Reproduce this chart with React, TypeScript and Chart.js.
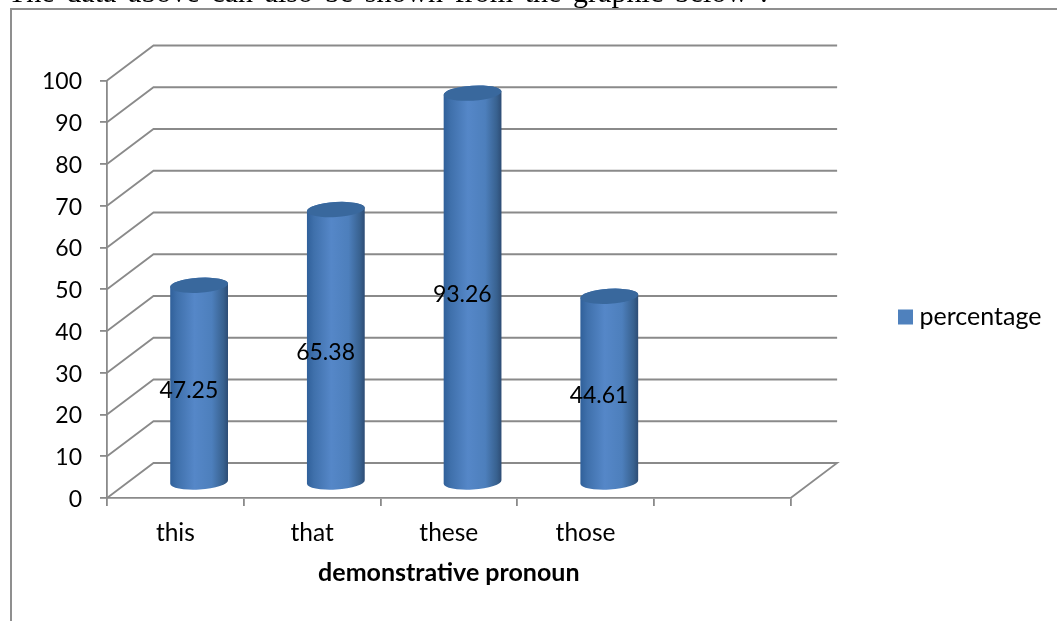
import React, { useEffect, useRef } from "react";
import { Chart, registerables } from "chart.js";

Chart.register(...registerables);

const categories = ["this", "that", "these", "those", ""];
const percentage = [47.25, 65.38, 93.26, 44.61, null];
const seriesName = "percentage";
const axisTitle = "demonstrative pronoun";
const heading = "The data above can also be shown from the graphic below :";

const GRID = "#8a8a8a";
const FONT = "Lato";

const DEPTH_X = 46.5;
const DEPTH_Y = 35;

const scene = {
  id: "scene3d",
  afterLayout(chart: any) {
    const legend = chart.legend;
    const w = legend.right - legend.left;
    const h = legend.bottom - legend.top;
    legend.left = 894;
    legend.right = 894 + w;
    legend.top = 317 - h / 2;
    legend.bottom = 317 + h / 2;
  },
  beforeDatasetsDraw(chart: any) {
    const { ctx, chartArea: a, scales } = chart;
    const y = scales.y;
    ctx.save();
    ctx.strokeStyle = GRID;
    ctx.lineWidth = 1.8;
    y.ticks.forEach((t: any) => {
      const p = y.getPixelForValue(t.value);
      ctx.beginPath();
      ctx.moveTo(a.left, p);
      ctx.lineTo(a.left + DEPTH_X, p - DEPTH_Y);
      ctx.lineTo(a.right + DEPTH_X, p - DEPTH_Y);
      if (t.value === 0) ctx.lineTo(a.right, p);
      ctx.stroke();
    });
    ctx.restore();
  },
  beforeDatasetDraw(chart: any, args: any) {
    const { ctx, scales } = chart;
    const meta = args.meta;
    const y0 = scales.y.getPixelForValue(0);
    ctx.save();
    meta.data.forEach((bar: any, i: number) => {
      const v = percentage[i];
      if (v == null) return;
      const rx = bar.width / 2;
      const ry = 7.5;
      const tilt = (-3.5 * Math.PI) / 180;
      const cx = bar.x + DEPTH_X / 2 + 0.5;
      const top = bar.y - 15.5;
      const bottom = y0 - 16;
      const l = cx - rx;
      const r = cx + rx;
      const g = ctx.createLinearGradient(l, 0, r, 0);
      g.addColorStop(0, "#30609a");
      g.addColorStop(0.12, "#3f70ab");
      g.addColorStop(0.42, "#5587c8");
      g.addColorStop(0.72, "#4d7fbc");
      g.addColorStop(0.92, "#38618f");
      g.addColorStop(1, "#2d4c74");
      ctx.fillStyle = g;
      ctx.beginPath();
      ctx.ellipse(cx, bottom, rx, ry, tilt, 0, Math.PI, false);
      ctx.ellipse(cx, top, rx, ry, tilt, Math.PI, Math.PI * 2, false);
      ctx.closePath();
      ctx.fill();
      ctx.fillStyle = "#39689d";
      ctx.beginPath();
      ctx.ellipse(cx, top, rx, ry, tilt, 0, Math.PI * 2);
      ctx.fill();
    });
    ctx.restore();
    return false;
  },
  afterDatasetsDraw(chart: any) {
    const { ctx, scales } = chart;
    const meta = chart.getDatasetMeta(0);
    ctx.save();
    ctx.fillStyle = "#000";
    ctx.font = `23px ${FONT}`;
    ctx.textAlign = "center";
    ctx.textBaseline = "middle";
    meta.data.forEach((bar: any, i: number) => {
      const v = percentage[i];
      if (v == null) return;
      const p = scales.y.getPixelForValue(v / 2) - 9;
      ctx.fillText(v.toFixed(2), bar.x + 13.5, p);
    });
    ctx.restore();
  },
};

export default function App() {
  const ref = useRef<HTMLCanvasElement>(null);
  useEffect(() => {
    if (!ref.current) return;
    const chart = new Chart(ref.current, {
      type: "bar",
      data: {
        labels: categories,
        datasets: [
          {
            label: seriesName,
            data: percentage as any,
            backgroundColor: "#4f81bd",
            borderWidth: 0,
            categoryPercentage: 1,
            barPercentage: 0.4234,
          },
        ],
      },
      plugins: [scene as any],
      options: {
        animation: false,
        responsive: false,
        events: [],
        layout: { padding: { top: 80.5, left: 0, right: 109, bottom: 0 } },
        plugins: {
          tooltip: { enabled: false },
          legend: {
            position: "right",
            labels: {
              boxWidth: 3,
              boxHeight: 3,
              padding: 10,
              color: "#000",
              font: { family: FONT, size: 25 },
              generateLabels: () => [
                {
                  text: seriesName,
                  fillStyle: "#4f81bd",
                  strokeStyle: "#4f81bd",
                  lineWidth: 12,
                  datasetIndex: 0,
                },
              ],
            },
          },
        },
        scales: {
          x: {
            afterFit: (s: any) => {
              s.height = 123;
            },
            grid: {
              offset: true,
              drawOnChartArea: false,
              color: GRID,
              lineWidth: 1.8,
              tickLength: 8,
            },
            border: { color: GRID, width: 1.8 },
            ticks: {
              color: "#000",
              font: { family: FONT, size: 24.5 },
              padding: 12,
              maxRotation: 0,
              autoSkip: false,
            },
            title: {
              display: true,
              text: axisTitle,
              color: "#000",
              font: { family: FONT, size: 25, weight: "bold" },
              padding: { top: 0, bottom: 33 },
            },
          },
          y: {
            min: 0,
            max: 100,
            afterFit: (s: any) => {
              s.width = 107;
            },
            grid: {
              drawOnChartArea: false,
              color: GRID,
              lineWidth: 1.8,
              tickLength: 7,
            },
            border: { color: GRID, width: 1.8 },
            ticks: {
              stepSize: 10,
              color: "#000",
              font: { family: FONT, size: 23 },
              padding: 18,
              labelOffset: 1.5,
            },
          },
        },
      } as any,
    });
    return () => chart.destroy();
  }, []);

  return (
    <div
      style={{
        position: "fixed",
        left: 0,
        top: 0,
        width: 1057,
        height: 621,
        overflow: "hidden",
        background: "#fff",
      }}
    >
      <canvas ref={ref} width={1057} height={621} style={{ position: "absolute", left: 0, top: 0 }} />
      <div
        style={{
          position: "absolute",
          left: 10,
          top: 8,
          width: 1047,
          height: 613,
          borderTop: "2px solid #8f8f8f",
          borderLeft: "2px solid #8f8f8f",
        }}
      />
      <div
        style={{
          position: "absolute",
          left: 8,
          top: -23,
          whiteSpace: "nowrap",
          font: "30px 'Liberation Serif'",
          lineHeight: "30px",
          wordSpacing: "4.2px",
          color: "#000",
        }}
      >
        {heading}
      </div>
    </div>
  );
}
